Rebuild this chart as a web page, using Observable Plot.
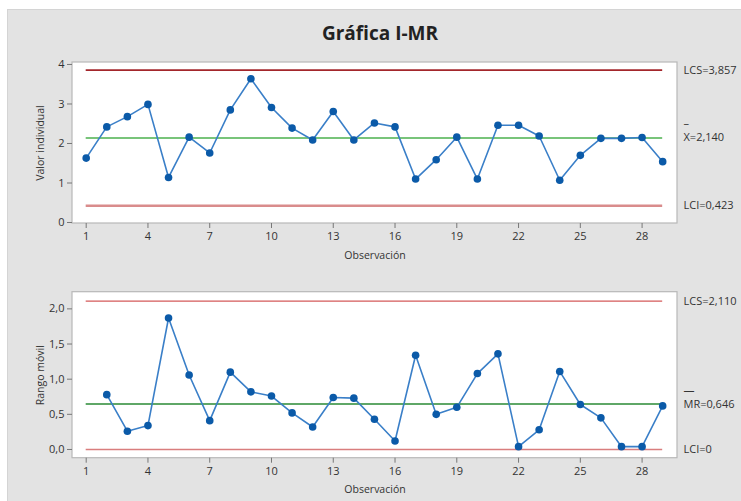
<!DOCTYPE html>
<html>
<head>
<meta charset="utf-8">
<script src="https://cdn.jsdelivr.net/npm/d3@7"></script>
<script src="https://cdn.jsdelivr.net/npm/@observablehq/plot@0.6"></script>
<style>
  html, body { margin: 0; padding: 0; background: #ffffff; }
  body { width: 741px; height: 501px; position: relative; overflow: hidden; font-family: "Open Sans", "Noto Sans", sans-serif; }
  #bg { position: absolute; left: 7px; top: 9px; width: 734px; height: 492px; background: #e3e3e3; border-top: 1px solid #d4d4d4; border-left: 1px solid #d4d4d4; }
  #title { position: absolute; left: 0; width: 760px; top: 20px; text-align: center; font-size: 19px; font-weight: 700; color: #222; font-family: "Open Sans", "Noto Sans", sans-serif; }
  .panel { position: absolute; left: 0; }
  .panel svg { background: transparent !important; overflow: visible; }
</style>
</head>
<body>
<div id="bg"></div>
<div id="title">Gráfica I-MR</div>
<div id="top" class="panel" style="top:50px"></div>
<div id="bottom" class="panel" style="top:280px"></div>
<script>
// Observations
const observations = d3.range(1, 30);
// Individual values
const individualValues = [1.63, 2.42, 2.68, 2.99, 1.14, 2.16, 1.76, 2.85, 3.64, 2.91,
  2.39, 2.09, 2.81, 2.09, 2.52, 2.42, 1.10, 1.59, 2.16, 1.10,
  2.46, 2.46, 2.19, 1.07, 1.70, 2.13, 2.13, 2.15, 1.54];
// Moving ranges (observations 2..29)
const mrObservations = d3.range(2, 30);
const movingRanges = [0.78, 0.26, 0.34, 1.87, 1.06, 0.41, 1.10, 0.82, 0.76, 0.52,
  0.32, 0.74, 0.73, 0.43, 0.12, 1.34, 0.50, 0.60, 1.08, 1.36,
  0.04, 0.28, 1.11, 0.64, 0.45, 0.04, 0.04, 0.62];
// Control limits
const iLimits = {ucl: 3.857, center: 2.140, lcl: 0.423};
const mrLimits = {ucl: 2.110, center: 0.646, lcl: 0};
const iLabels = ["LCS=3,857", "X=2,140", "LCI=0,423"];
const mrLabels = ["LCS=2,110", "MR=0,646", "LCI=0"];
const xTicks = [1, 4, 7, 10, 13, 16, 19, 22, 25, 28];
const iTicks = [0, 1, 2, 3, 4];
const mrTicks = [0, 0.5, 1.0, 1.5, 2.0];

const iData = observations.map((o, i) => ({obs: o, v: individualValues[i]}));
const mrData = mrObservations.map((o, i) => ({obs: o, v: movingRanges[i]}));

const font = "'Open Sans', 'Noto Sans', sans-serif";
const xDomain = [0.335, 29.72];
const commaFmt = d3.formatLocale({decimal: ",", thousands: ".", grouping: [3], currency: ["", ""]});

function panel({data, limits, labels, yDomain, yTicks, yFmt, yLabel, height, marginTop, marginBottom, colors, barText, barDy}) {
  const xLast = xDomain[1];
  return Plot.plot({
    width: 741,
    height,
    marginLeft: 72,
    marginRight: 64,
    marginTop,
    marginBottom,
    style: {fontFamily: font, fontSize: "11px", color: "#333", background: "transparent", overflow: "visible"},
    x: {domain: xDomain, ticks: xTicks, tickSize: 5, tickPadding: 4, label: null},
    y: {domain: yDomain, ticks: yTicks, tickSize: 5, tickPadding: 3, tickFormat: yFmt, label: null},
    marks: [
      Plot.rect([0], {x1: xDomain[0], x2: xDomain[1], y1: yDomain[0], y2: yDomain[1], fill: "white", stroke: "#b8b8b8", strokeWidth: 1.2}),
      Plot.axisX({ticks: xTicks, tickSize: 5, tickPadding: 4, stroke: "#777", fill: "#333", fontSize: 11, label: null}),
      Plot.axisY({ticks: yTicks, tickSize: 5, tickPadding: 3, tickFormat: yFmt, stroke: "#777", fill: "#333", fontSize: 11, label: null}),
      Plot.text([yLabel], {frameAnchor: "left", textAnchor: "middle", dx: -32, rotate: -90, fontSize: 10.5, fill: "#333"}),
      Plot.text(["Observación"], {frameAnchor: "bottom", textAnchor: "middle", dy: 35, fontSize: 10.5, fill: "#333"}),
      Plot.ruleY([limits.ucl], {x1: 1, x2: 29, stroke: colors.ucl, strokeWidth: colors.uclW}),
      Plot.ruleY([limits.lcl], {x1: 1, x2: 29, stroke: colors.lcl, strokeWidth: colors.lclW}),
      Plot.ruleY([limits.center], {x1: 1, x2: 29, stroke: colors.center, strokeWidth: colors.centerW}),
      Plot.line(data, {x: "obs", y: "v", stroke: "#3a7fc8", strokeWidth: 1.6}),
      Plot.dot(data, {x: "obs", y: "v", r: 3.8, fill: "#0b5aa8", stroke: "none"}),
      Plot.text([
        {y: limits.ucl, t: labels[0]},
        {y: limits.center, t: labels[1]},
        {y: limits.lcl, t: labels[2]}
      ], {x: () => xLast, y: "y", text: "t", textAnchor: "start", dx: 6, fontSize: 11, fill: "#333", clip: false}),
      Plot.text([{y: limits.center, t: barText}], {x: () => xLast, y: "y", text: "t", textAnchor: "start", dx: 6, dy: barDy, fontSize: 11, fill: "#333"})
    ]
  });
}

document.getElementById("top").appendChild(panel({
  data: iData, limits: iLimits, labels: iLabels,
  yDomain: [-0.025, 4.05], yTicks: iTicks, yFmt: d => commaFmt.format("d")(d),
  yLabel: "Valor individual", height: 230, marginTop: 12, marginBottom: 57,
  colors: {ucl: "#a3262b", uclW: 1.8, lcl: "#d98c8c", lclW: 2.6, center: "#78c47a", centerW: 2},
  barText: "–", barDy: -14
}));

document.getElementById("bottom").appendChild(panel({
  data: mrData, limits: mrLimits, labels: mrLabels,
  yDomain: [-0.124, 2.237], yTicks: mrTicks, yFmt: d => commaFmt.format(".1f")(d),
  yLabel: "Rango móvil", height: 221, marginTop: 11.7, marginBottom: 43.3,
  colors: {ucl: "#d45a5a", uclW: 1.3, lcl: "#d97e7e", lclW: 1.6, center: "#2a8a35", centerW: 1.6},
  barText: "—", barDy: -14
}));
</script>
</body>
</html>
